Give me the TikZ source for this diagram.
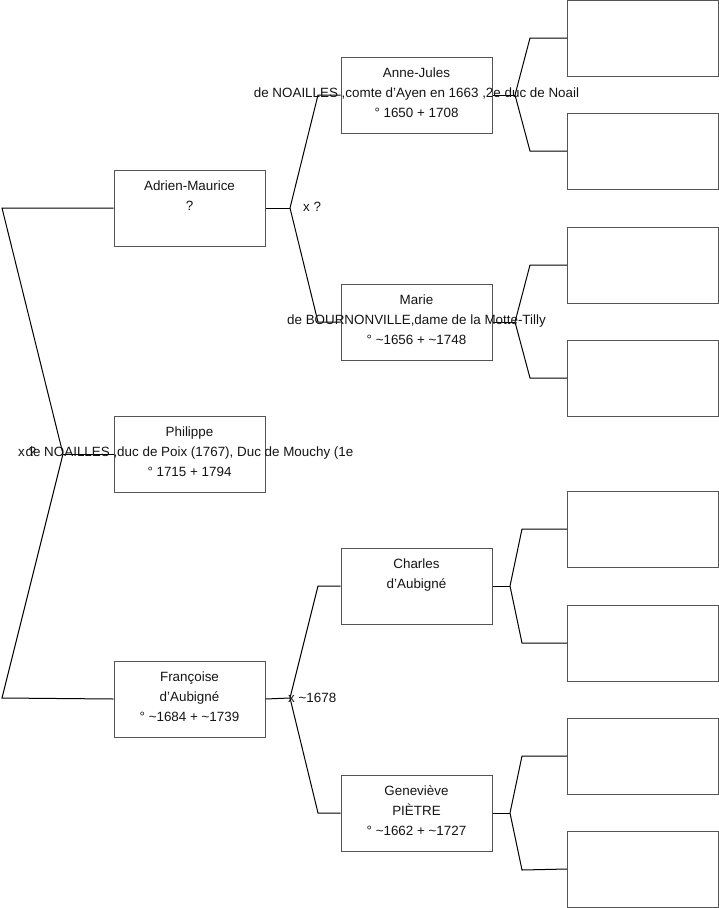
\documentclass[tikz,border=0pt]{standalone}
\usepackage{fontspec}
\setmainfont{Liberation Sans}
\usetikzlibrary{positioning}
\definecolor{boxline}{RGB}{85,85,85}
\definecolor{inktext}{RGB}{20,20,20}

\tikzset{
  person/.style={draw=boxline, line width=1pt, minimum width=151pt, minimum height=76pt, inner sep=0pt},
  txt/.style={inktext, inner sep=0pt, align=center, font=\fontsize{13.4}{20}\selectfont},
  link/.style={line width=1pt, black}
}

\begin{document}
\begin{tikzpicture}[x=1pt, y=-1pt]
  \useasboundingbox (0,0) rectangle (719,908);
  % generation 1
  \node[person] (phil) at (189.5,454) {};
  % generation 2
  \node[person] (adm) at (189.5,208) {};
  \node[person] (fra) at (189.5,699) {};
  % generation 3
  \node[person] (anj) at (416.5,95) {};
  \node[person] (mar) at (416.5,322) {};
  \node[person] (cha) at (416.5,586) {};
  \node[person] (gen) at (416.5,813) {};
  % generation 4 (empty)
  \node[person] (e1) at (643,38) {};
  \node[person] (e2) at (643,151) {};
  \node[person] (e3) at (643,265) {};
  \node[person] (e4) at (643,378) {};
  \node[person] (e5) at (643,529) {};
  \node[person] (e6) at (643,643) {};
  \node[person] (e7) at (643,756) {};
  \node[person] (e8) at (643,869) {};

  % fork points
  \coordinate (f0) at (63,454);
  \coordinate (f1) at (290,208);
  \coordinate (f2) at (290,698);
  \coordinate (f3) at (515,95);
  \coordinate (f4) at (515,322);
  \coordinate (f5) at (510,586);
  \coordinate (f6) at (510,813);

  % parents of Philippe
  \draw[link] (phil.west) -- (f0);
  \draw[link] (f0) -- (2,208) -- (adm.west);
  \draw[link] (f0) -- (2,698) -- (fra.west);
  % parents of Adrien-Maurice
  \draw[link] (adm.east) -- (f1);
  \draw[link] (f1) -- (318,95) -- (anj.west);
  \draw[link] (f1) -- (318,322) -- (mar.west);
  % parents of Francoise
  \draw[link] (fra.east) -- (f2);
  \draw[link] (f2) -- (318,586) -- (cha.west);
  \draw[link] (f2) -- (318,813) -- (gen.west);
  % fourth generation
  \draw[link] (anj.east) -- (f3);
  \draw[link] (f3) -- (530,38) -- (e1.west);
  \draw[link] (f3) -- (530,151) -- (e2.west);
  \draw[link] (mar.east) -- (f4);
  \draw[link] (f4) -- (530,265) -- (e3.west);
  \draw[link] (f4) -- (530,378) -- (e4.west);
  \draw[link] (cha.east) -- (f5);
  \draw[link] (f5) -- (522,529) -- (e5.west);
  \draw[link] (f5) -- (522,643) -- (e6.west);
  \draw[link] (gen.east) -- (f6);
  \draw[link] (f6) -- (522,756) -- (e7.west);
  \draw[link] (f6) -- (522,870) -- (e8.west);

  % names
  \node[txt, below=11pt of phil.north] (phil-t) {Philippe\\de NOAILLES ,duc de Poix (1767), Duc de Mouchy (1e\\° 1715 + 1794};
  \node[txt, below=11pt of adm.north] (adm-t) {Adrien-Maurice\\?};
  \node[txt, below=11pt of fra.north] (fra-t) {Françoise\\d'Aubigné\\° \textasciitilde1684 + \textasciitilde1739};
  \node[txt, below=11pt of anj.north] (anj-t) {Anne-Jules\\de NOAILLES ,comte d'Ayen en 1663 ,2e duc de Noail\\° 1650 + 1708};
  \node[txt, below=11pt of mar.north] (mar-t) {Marie\\de BOURNONVILLE,dame de la Motte-Tilly\\° \textasciitilde1656 + \textasciitilde1748};
  \node[txt, below=11pt of cha.north] (cha-t) {Charles\\d'Aubigné};
  \node[txt, below=11pt of gen.north] (gen-t) {Geneviève\\PIÈTRE\\° \textasciitilde1662 + \textasciitilde1727};

  % marriages
  \node[txt, anchor=west] (m0) at (18,452) {x ?};
  \node[txt, anchor=west] (m1) at (303,207) {x ?};
  \node[txt, anchor=west] (m2) at (288,698) {x \textasciitilde1678};
\end{tikzpicture}
\end{document}
